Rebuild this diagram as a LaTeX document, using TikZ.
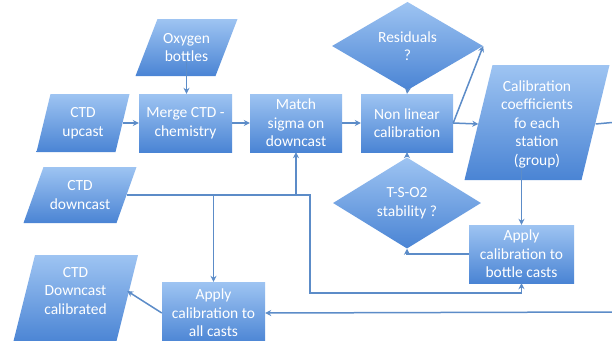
\documentclass[tikz,border=0pt]{standalone}
\usepackage{fontspec}
\setmainfont{Carlito}
\usetikzlibrary{arrows.meta,shapes.geometric,calc}
\definecolor{boxtop}{RGB}{158,196,242}
\definecolor{boxbot}{RGB}{74,132,212}
\definecolor{linec}{RGB}{92,140,200}
\tikzset{
  shadebox/.style={top color=boxtop,bottom color=boxbot,draw=none},
  ptxt/.style={text=white,align=center,font=\fontsize{15.5}{18.5}\selectfont,inner sep=0pt},
  rbox/.style={shadebox,ptxt,rectangle},
  dbox/.style={shadebox,ptxt,diamond},
  conn/.style={draw=linec,line width=1.5pt},
  arr/.style={conn,-{Stealth[length=6pt,width=6pt]}},
}
% name, cx, cy, w, h, d, text-cy, text
\newcommand\mypara[8]{%
  \path[shadebox] ({#2-#4/2-#6},{#3+#5/2}) -- ({#2+#4/2-#6},{#3+#5/2}) -- ({#2+#4/2+#6},{#3-#5/2}) -- ({#2-#4/2+#6},{#3-#5/2}) -- cycle;
  \node[ptxt,minimum width=#4] (#1) at (#2,#7) {#8};
}
\begin{document}
\begin{tikzpicture}[x=1pt,y=-1pt]
\path[use as bounding box,clip] (0,0) rectangle (612,340);
\fill[white] (0,0) rectangle (612,340);

\mypara{oxy}{186.5}{47.5}{80}{57}{11}{47.5}{Oxygen\\bottles}
\mypara{up}{83}{123}{79}{58}{7}{123}{CTD\\upcast}
\mypara{dn}{80}{195}{93}{56}{10}{195}{CTD\\downcast}
\mypara{cal}{537}{122.5}{117}{115}{14}{124}{Calibration\\coefficients\\fo each\\station\\(group)}
\mypara{dcal}{75.5}{299}{103}{88}{11}{291}{CTD\\Downcast\\calibrated}

\node[rbox,minimum width=93,minimum height=58] (merge) at (185.5,123) {Merge CTD -\\chemistry};
\node[rbox,minimum width=92,minimum height=58] (match) at (296,123) {Match\\sigma on\\downcast};
\node[rbox,minimum width=92,minimum height=58] (nl) at (407,123) {Non linear\\calibration};
\node[rbox,minimum width=105,minimum height=58] (ab) at (521.5,254) {Apply\\calibration to\\bottle casts};
\node[rbox,minimum width=103,minimum height=62] (allc) at (213.5,313) {Apply\\calibration to\\all casts};
\node[dbox,minimum width=151,minimum height=62] (res) at (407.5,46) {Residuals\\?};
\node[dbox,minimum width=148,minimum height=60] (ts) at (407,203) {T-S-O2\\stability ?};

\coordinate (rout) at (612,122.5);
\coordinate (bout) at (612,312);
\coordinate (j1) at (310,195);
\coordinate (j2) at (310,293);

\draw[arr] (oxy.south) -- (oxy.south |- merge.north);
\draw[arr] (up.east) -- (merge.west);
\draw[arr] (merge.east) -- (match.west);
\draw[arr] (match.east) -- (nl.west);
\draw[arr] (res.south) -- (nl.north);
\draw[arr] (nl.east) -- (res.east);
\draw[arr] (nl.east) -- (cal.west);
\draw[conn] (cal.east) -- (rout);
\draw[arr] (cal.south -| ab.north) -- (ab.north);
\draw[arr] (ab.west) -| (ts.south);
\draw[arr] (ts.north) -- (nl.south);
\draw[arr] (dn.east) -| (match.south);
\draw[arr] (dn.east -| allc.north) -- (allc.north);
\draw[arr] (match.south |- dn.east) -- (j1) -- (j2) -| (ab.south);
\draw[arr] (bout) -- (allc.east);
\draw[arr] (allc.west) -- (dcal.east);
\end{tikzpicture}
\end{document}
